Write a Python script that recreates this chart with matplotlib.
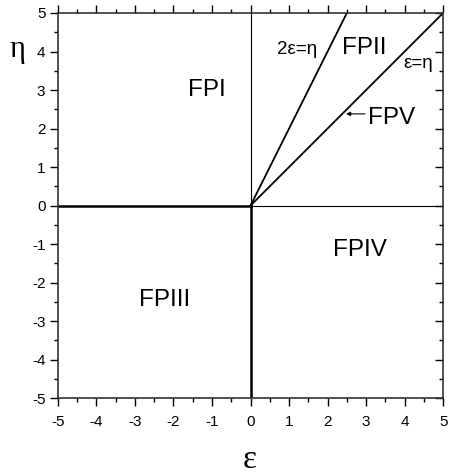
import numpy as np
import matplotlib.pyplot as plt
from matplotlib.ticker import MultipleLocator

plt.rcParams['font.family'] = ['Liberation Sans', 'DejaVu Sans']

# fronteras del diagrama
borde_x = [-5, 0]
borde_y = [0, 0]
eje_pos_x = [0, 5]
eje_pos_y = [0, 0]
linea_2e_x = [0, 2.5]
linea_2e_y = [0, 5]
linea_e_x = [0, 5]
linea_e_y = [0, 5]

# etiquetas de regiones
regiones = ["FPI", "FPII", "FPIII", "FPIV", "FPV"]
reg_x = [-1.13, 2.95, -2.22, 2.84, 3.65]
reg_y = [3.0, 4.09, -2.45, -1.16, 2.27]

fig = plt.figure(figsize=(4.49, 4.74), dpi=100)
ax = fig.add_axes([0.129, 0.160, 0.858, 0.8126])

# lineas gruesas (semiejes negativos)
ax.plot(borde_x, borde_y, color='black', lw=1.8)
ax.plot(borde_y, borde_x, color='black', lw=1.8)
# lineas delgadas (semiejes positivos)
ax.plot(eje_pos_x, eje_pos_y, color='black', lw=0.8)
ax.plot(eje_pos_y, eje_pos_x, color='black', lw=0.8)
# rectas 2e=n y e=n
ax.plot(linea_2e_x, linea_2e_y, color='black', lw=1.3)
ax.plot(linea_e_x, linea_e_y, color='black', lw=1.3)

for nombre, xx, yy in zip(regiones, reg_x, reg_y):
    ax.text(xx, yy, nombre, fontsize=17.5, ha='center', va='center')

ax.text(1.21, 4.04, "2ε=η", fontsize=13.5, ha='center', va='center')
ax.text(4.35, 3.70, "ε=η", fontsize=13.5, ha='center', va='center')
ax.annotate("", xy=(2.48, 2.38), xytext=(2.97, 2.38),
            arrowprops=dict(arrowstyle='-|>', color='black', lw=0.8,
                            mutation_scale=6, shrinkA=0, shrinkB=0))

ax.set_xlim(-5, 5)
ax.set_ylim(-5, 5)
ax.xaxis.set_major_locator(MultipleLocator(1))
ax.yaxis.set_major_locator(MultipleLocator(1))
ax.xaxis.set_minor_locator(MultipleLocator(0.5))
ax.yaxis.set_minor_locator(MultipleLocator(0.5))
ax.tick_params(which='both', top=True, right=True, labelsize=11, width=1.0)
ax.tick_params(which='major', length=6)
ax.tick_params(which='minor', length=3)
ax.tick_params(axis='x', which='major', pad=6)
ax.tick_params(axis='y', which='major', pad=3)
for s in ax.spines.values():
    s.set_linewidth(1.2)
    s.set_color('#333333')

# ticks derechos hacia adentro
for t in ax.yaxis.get_major_ticks() + ax.yaxis.get_minor_ticks():
    t.tick2line.set_marker(0)

ax.set_xticks(np.arange(-5, 6, 1))
ax.set_xticklabels([str(v) for v in range(-5, 6)])
ax.set_yticks(np.arange(-5, 6, 1))
ax.set_yticklabels([str(v) for v in range(-5, 6)])

fig.text(0.04, 0.895, "η", fontsize=22, family='Liberation Serif', ha='center', va='center')
fig.text(0.557, 0.03, "ε", fontsize=24, family='Liberation Serif', ha='center', va='center')

fig.savefig("out.png", dpi=100)
